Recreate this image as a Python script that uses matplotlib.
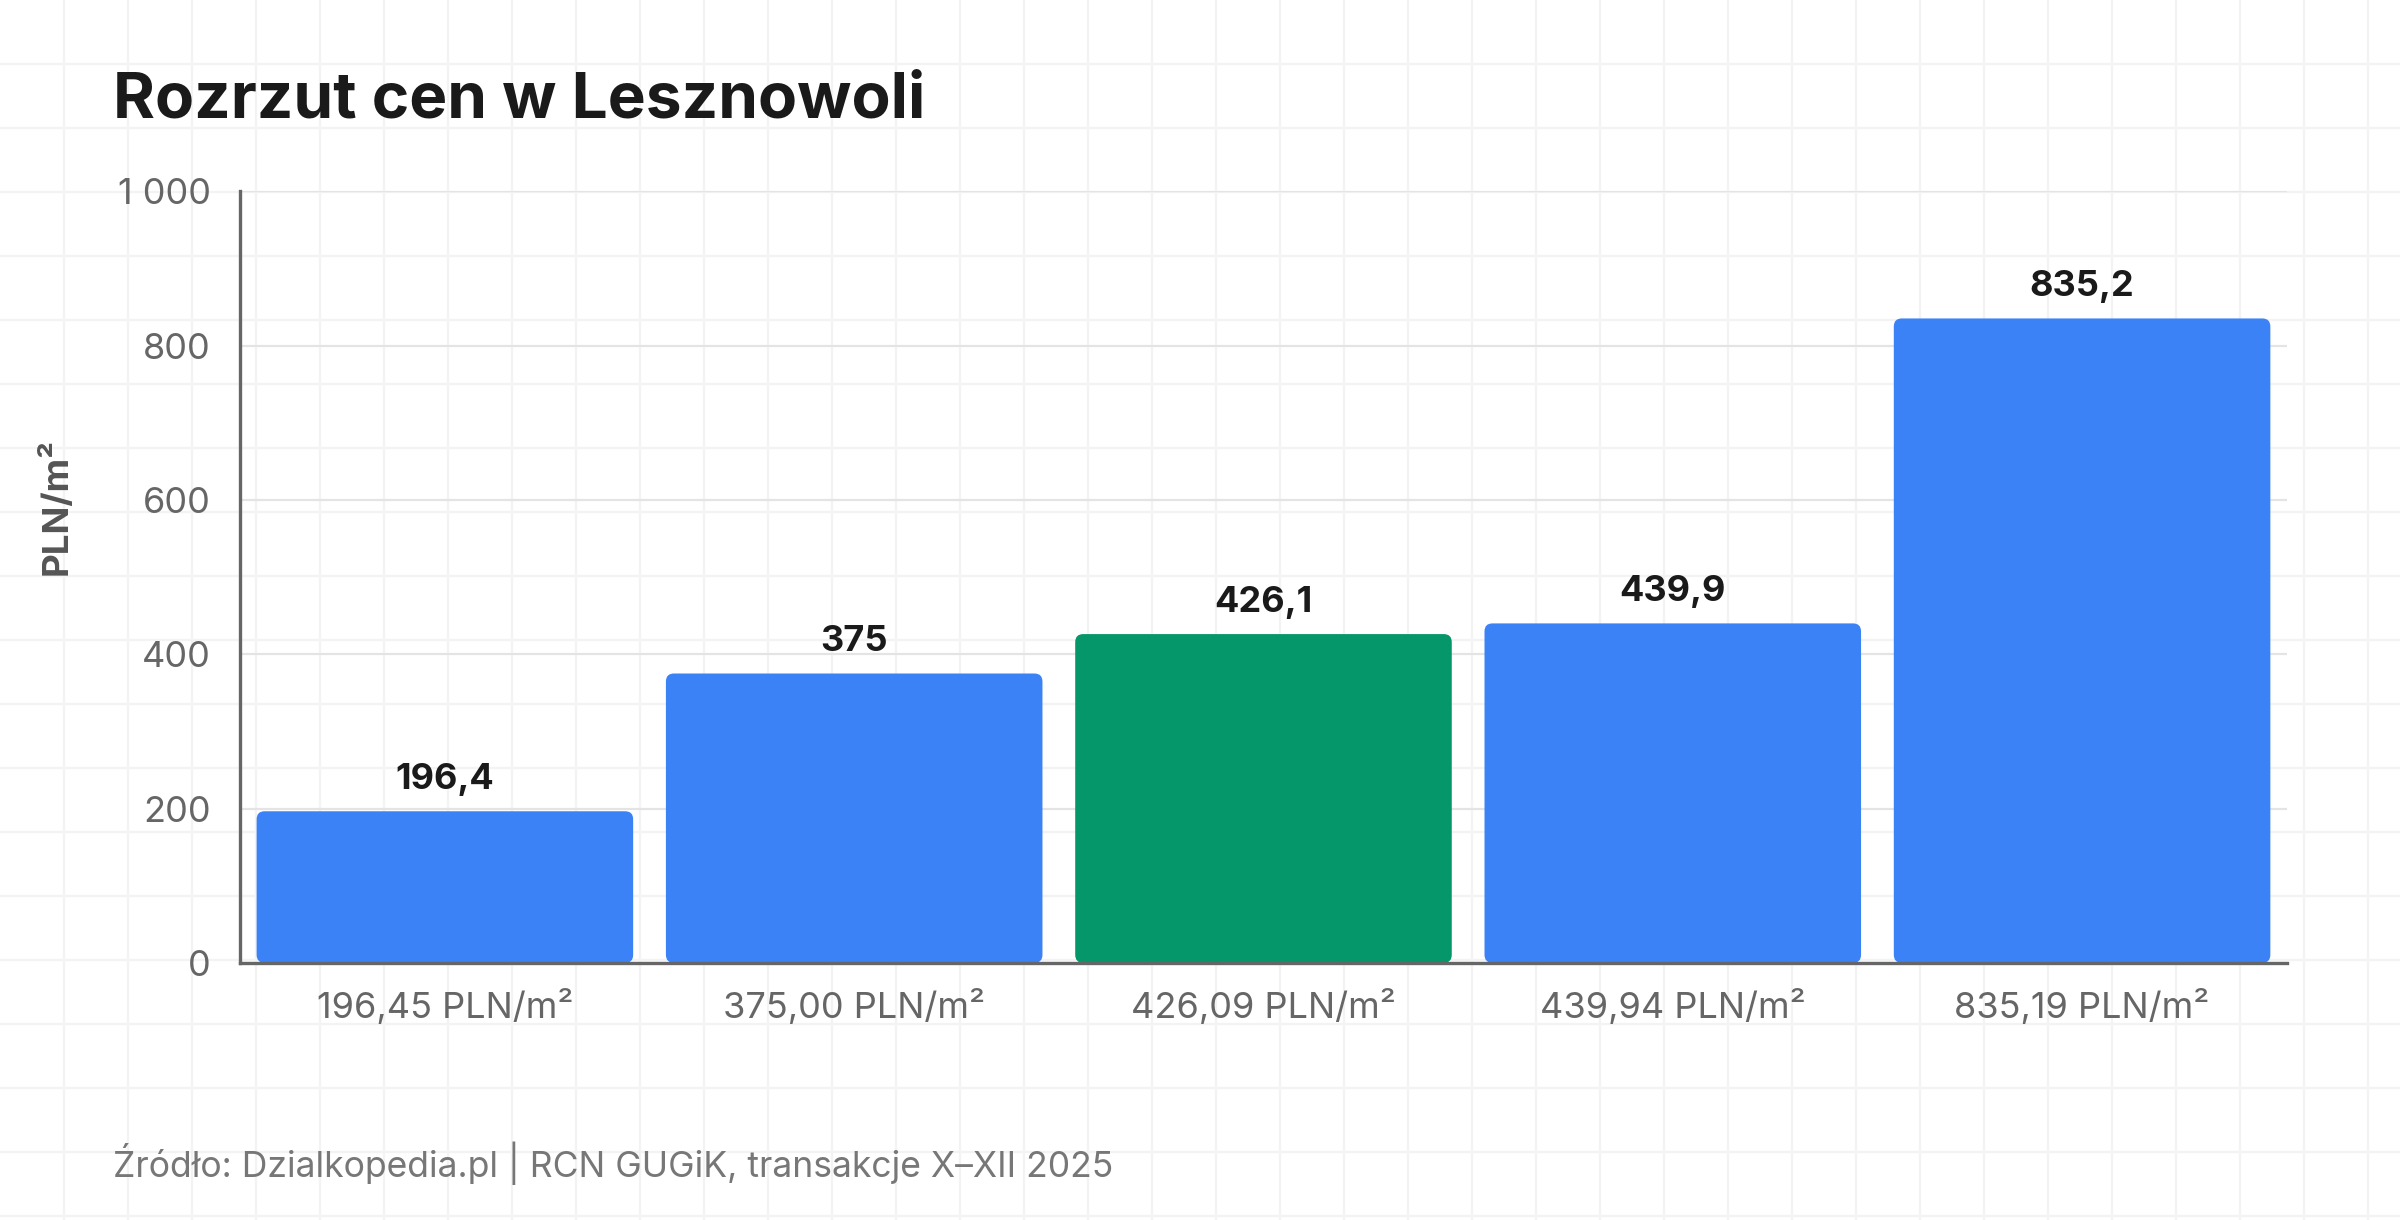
import matplotlib
matplotlib.use("Agg")
import matplotlib.pyplot as plt
from matplotlib.patches import FancyBboxPatch
from matplotlib.ticker import FuncFormatter, MultipleLocator

plt.rcParams['font.family'] = ['Inter', 'DejaVu Sans']

# ---- data ----
categories = ["196,45 PLN/m²", "375,00 PLN/m²", "426,09 PLN/m²", "439,94 PLN/m²", "835,19 PLN/m²"]
values = [196.45, 375.00, 426.09, 439.94, 835.19]
value_labels = ["196,4", "375", "426,1", "439,9", "835,2"]
highlight = [False, False, True, False, False]
title = "Rozrzut cen w Lesznowoli"
ylabel = "PLN/m²"
source = "Źródło: Dzialkopedia.pl | RCN GUGiK, transakcje X–XII 2025"

BLUE = "#3B82F6"
GREEN = "#059669"

W, H = 2400, 1220
fig = plt.figure(figsize=(W / 100, H / 100), dpi=100, facecolor="white")

# background faint grid
bg = fig.add_axes([0, 0, 1, 1], zorder=-10)
bg.set_xlim(0, W)
bg.set_ylim(H, 0)
bg.axis("off")
for x in range(64, W, 64):
    bg.axvline(x, color="#f3f3f3", lw=1.6, zorder=0)
for y in range(64, H, 64):
    bg.axhline(y, color="#f3f3f3", lw=1.6, zorder=0)

ax = fig.add_axes([0.1001, 0.2108, 0.8527, 0.6324])
ax.set_facecolor("none")

x = list(range(len(values)))
colors = [GREEN if h else BLUE for h in highlight]
bars = ax.bar(x, values, width=0.92, color=colors, zorder=3)

ax.set_xlim(-0.5, len(values) - 0.5)
ax.set_ylim(0, 1000)

# replace bars with rounded versions
fig.canvas.draw()
bb = ax.get_window_extent()
px_per_x = bb.width / (ax.get_xlim()[1] - ax.get_xlim()[0])
px_per_y = bb.height / (ax.get_ylim()[1] - ax.get_ylim()[0])
r_px = 8
for b, c in zip(bars, colors):
    bx, by = b.get_x(), b.get_y()
    bw, bh = b.get_width(), b.get_height()
    rp = FancyBboxPatch((bx, by), bw, bh,
                        boxstyle=f"round,pad=0,rounding_size={r_px / px_per_x}",
                        mutation_aspect=px_per_x / px_per_y,
                        facecolor=c, edgecolor="none", zorder=3)
    ax.add_patch(rp)
    b.set_visible(False)

for xi, v, lab in zip(x, values, value_labels):
    ax.annotate(lab, (xi, v), xytext=(0, 16), textcoords="offset points",
                ha="center", va="baseline", fontsize=26, fontweight="bold",
                color="#1a1a1a", zorder=5)

ax.yaxis.set_major_locator(MultipleLocator(200))
ax.yaxis.set_major_formatter(FuncFormatter(lambda v, p: f"{v:,.0f}".replace(",", " ")))
ax.grid(axis="y", color="#e4e4e4", lw=1.6, zorder=0)
ax.set_axisbelow(True)

ax.set_xticks(x)
ax.set_xticklabels(categories)
ax.tick_params(axis="both", length=0, labelsize=26, labelcolor="#666666")
ax.tick_params(axis="y", pad=21)
ax.tick_params(axis="x", pad=19)

for s in ["top", "right"]:
    ax.spines[s].set_visible(False)
for s in ["left", "bottom"]:
    ax.spines[s].set_color("#666666")
    ax.spines[s].set_linewidth(2.4)
    ax.spines[s].set_zorder(4)

ax.set_ylabel(ylabel, fontsize=26.5, fontweight="bold", color="#555555")
ax.yaxis.set_label_coords(-0.0816, 0.592)

fig.text(0.0472, 0.9034, title, fontsize=46, fontweight="bold", color="#1a1a1a",
         ha="left", va="baseline")
fig.text(0.0472, 0.0464, source, fontsize=25.6, color="#777777", ha="left", va="center")

fig.savefig("out.png", dpi=100, facecolor="white")
